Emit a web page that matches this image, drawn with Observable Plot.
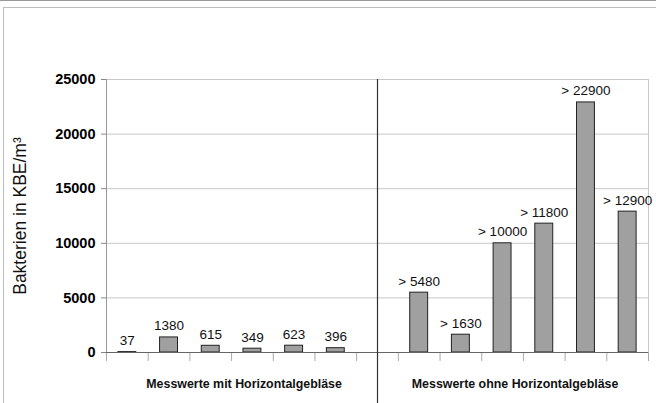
<!DOCTYPE html>
<html>
<head>
<meta charset="utf-8">
<script src="https://cdn.jsdelivr.net/npm/d3@7"></script>
<script src="https://cdn.jsdelivr.net/npm/@observablehq/plot@0.6"></script>
<style>
  html, body { margin: 0; padding: 0; background: #fff; }
  #wrap { position: relative; width: 656px; height: 403px; overflow: hidden; }
  #frame { position: absolute; left: 3px; top: 7px; right: -2px; bottom: -2px;
           border-top: 1px solid #bdbdbd; border-left: 1px solid #bdbdbd; }
  #topline { position: absolute; left: 0; top: 0; width: 656px; height: 1px; background: #9a9a9a; }
  #chart { position: absolute; left: 0; top: 0; }
</style>
</head>
<body>
<div id="wrap"><div id="topline"></div><div id="frame"></div><div id="chart"></div></div>
<script>
const categories = ["M1","M2","M3","M4","M5","M6","","O1","O2","O3","O4","O5","O6"];
const values = [37, 1380, 615, 349, 623, 396, null, 5480, 1630, 10000, 11800, 22900, 12900];
const valueLabels = ["37","1380","615","349","623","396","","> 5480","> 1630","> 10000","> 11800","> 22900","> 12900"];
const yTicks = [0, 5000, 10000, 15000, 20000, 25000];
const groups = ["Messwerte mit Horizontalgebläse", "Messwerte ohne Horizontalgebläse"];
const groupCenters = [2.8, 9.3];
const dividerAt = 6;

const data = categories.map((c, i) => ({i, c, v: values[i], label: valueLabels[i]})).filter(d => d.v != null);
const boundaries = d3.range(categories.length + 1).map(k => k - 0.5);
const half = 0.215;

const font = "Liberation Sans, Arial, sans-serif";

const chart = Plot.plot({
  width: 656,
  height: 403,
  marginLeft: 106,
  marginRight: 8,
  marginTop: 79,
  marginBottom: 51,
  style: {fontFamily: font, background: "transparent"},
  x: {domain: [-0.5, categories.length - 0.5], axis: null},
  y: {domain: [0, 25000], axis: null},
  marks: [
    Plot.gridY(yTicks, {stroke: "#c8c8c8", strokeOpacity: 1}),
    Plot.ruleX([categories.length - 0.5], {stroke: "#c8c8c8"}),
    Plot.axisY({ticks: yTicks, tickSize: 5, tickPadding: 6, tickFormat: d => String(d), stroke: "#888", fontSize: 14.5, fontWeight: "bold", fill: "#000", label: null}),
    Plot.ruleX([-0.5], {stroke: "#999"}),
    Plot.axisX({ticks: boundaries, tickSize: 9, tickFormat: () => "", stroke: "#aaa", label: null}),
    Plot.rectY(data, {x1: d => d.i - half, x2: d => d.i + half, y: "v", fill: "#a0a0a0", stroke: "#222", strokeWidth: 1}),
    Plot.ruleY([0], {stroke: "#666"}),
    Plot.ruleX([dividerAt], {stroke: "#333", strokeWidth: 1.2, insetBottom: -60}),
    Plot.text(data, {x: "i", y: "v", text: "label", lineAnchor: "bottom", dy: -7, fontSize: 13.5, fill: "#111"}),
    Plot.text(groups, {x: (d, k) => groupCenters[k], y: 0, text: d => d, dy: 32, fontSize: 12.4, fontWeight: "bold", fill: "#111"}),
    Plot.text(["Bakterien in KBE/m³"], {x: -0.5, y: 12500, text: d => d, rotate: -90, dx: -86, fontSize: 17.5, fill: "#111"})
  ]
});
document.getElementById("chart").appendChild(chart);
</script>
</body>
</html>
